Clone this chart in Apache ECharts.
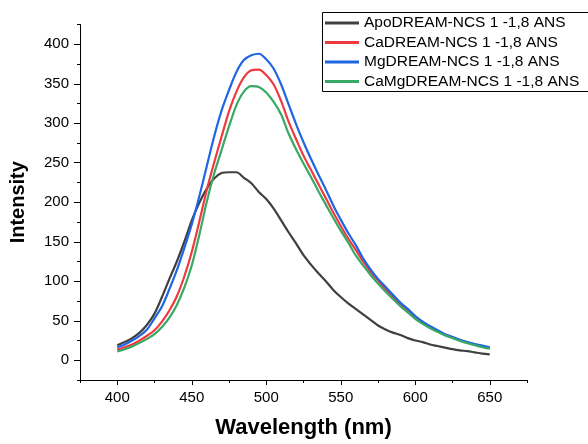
<!DOCTYPE html>
<html>
<head>
<meta charset="utf-8">
<script src="https://cdn.jsdelivr.net/npm/echarts@6/dist/echarts.min.js"></script>
<style>
  html, body { margin: 0; padding: 0; background: #fff; }
  #chart { width: 588px; height: 444px; }
</style>
</head>
<body>
<div id="chart"></div>
<script>
// Emission wavelengths (nm), 5 nm steps
var wavelength = [400,405,410,415,420,425,430,435,440,445,450,455,460,465,470,475,480,485,490,495,
  500,505,510,515,520,525,530,535,540,545,550,555,560,565,570,575,580,585,590,595,
  600,605,610,615,620,625,630,635,640,645,650];

// Fluorescence intensity for each sample
var apo = [19,23,28,35,45,59,80,103,125,150,177,199,217,230,237,238,238,231,224,213,
  204,192,177,162,148,133,121,110,100,89,80,72,65,58,51,44,39,35,32,28,
  25,23,20,18,16,14,12.5,11.5,10,8.5,7.5];
var ca = [13.5,16.5,20,25,31,38,49,63,81,106,137,175,215,250,283,315,340,358,367,368,
  361,349,328,302,280,259,241,223,205,187,170,154,140,125,112,101,90,80.5,71,63,
  54.5,48,42,37,32.5,29,25.5,22.5,20,17.5,15.5];
var mg = [16.5,20,25,31,39,53,68,90,114,142,172,207,245,283,316,342,365,380,386,388,
  381,369,349,324,299,276,255,235,216,196,178,161,146,129,115,103,93,83,73,65,
  56,49,43,38,33,29.5,26,23,20.5,18.5,16.5];
var camg = [11,14,17.5,22,27,33,42,54,70,92,120,158,200,236,266,296,323,340,347,346,
  339,327,311,287,267,249,232,214,197,180,164,149,133,120,108,97,87,77.5,68.5,60.5,
  52.5,46,40.5,36,31.5,28,24.5,21.5,19,16.5,14.5];

var seriesNames = ['ApoDREAM-NCS 1 -1,8 ANS', 'CaDREAM-NCS 1 -1,8 ANS',
  'MgDREAM-NCS 1 -1,8 ANS', 'CaMgDREAM-NCS 1 -1,8 ANS'];
var seriesColors = ['#404040', '#ee3a3e', '#1f66e3', '#37a964'];
var seriesValues = [apo, ca, mg, camg];

// Labelled tick positions
var xTicks = [400, 450, 500, 550, 600, 650];
var yTicks = [0, 50, 100, 150, 200, 250, 300, 350, 400];

var FONT = 'Liberation Sans, Arial, sans-serif';

function pairs(values) {
  return wavelength.map(function (w, i) { return [w, values[i]]; });
}

var chart = echarts.init(document.getElementById('chart'), null, { renderer: 'canvas' });

var lineStyleAxis = { color: '#000', width: 1 };

chart.setOption({
  backgroundColor: '#fff',
  animation: false,
  grid: { left: 80, right: 61, top: 24.5, bottom: 60 },
  // legend frame, running off the right edge of the canvas
  graphic: [{
    type: 'rect',
    z: 1,
    shape: { x: 322.5, y: 12.5, width: 320, height: 79 },
    style: { fill: '#fff', stroke: '#000', lineWidth: 1 }
  }],
  legend: {
    orient: 'vertical',
    left: 322,
    top: 12.3,
    z: 10,
    padding: [1, 10, 0, 3],
    itemGap: 0,
    itemWidth: 34,
    itemHeight: 3,
    icon: 'rect',
    borderWidth: 0,
    textStyle: { fontFamily: FONT, fontSize: 15.5, color: '#000', lineHeight: 19.5 },
    data: seriesNames
  },
  xAxis: [
    {
      // minor ticks every 25 nm plus the axis line
      type: 'value', min: 375, max: 675, interval: 25,
      position: 'bottom',
      axisLine: { show: true, onZero: false, lineStyle: lineStyleAxis },
      axisTick: { show: true, inside: false, length: 3, lineStyle: lineStyleAxis },
      axisLabel: { show: false },
      splitLine: { show: false }
    },
    {
      // labelled major ticks
      type: 'value', min: 375, max: 675,
      position: 'bottom', offset: 0,
      axisLine: { show: false, onZero: false },
      axisTick: { show: true, inside: false, length: 5, customValues: xTicks, lineStyle: lineStyleAxis },
      axisLabel: { show: true, customValues: xTicks, margin: 10, fontFamily: FONT, fontSize: 15, color: '#000' },
      splitLine: { show: false },
      name: 'Wavelength (nm)',
      nameLocation: 'middle',
      nameGap: 37,
      nameTextStyle: { fontFamily: FONT, fontSize: 22, fontWeight: 'bold', color: '#000' }
    }
  ],
  yAxis: [
    {
      type: 'value', min: -25, max: 425, interval: 25,
      position: 'left',
      axisLine: { show: true, onZero: false, lineStyle: lineStyleAxis },
      axisTick: { show: true, inside: false, length: 3, lineStyle: lineStyleAxis },
      axisLabel: { show: false },
      splitLine: { show: false }
    },
    {
      type: 'value', min: -25, max: 425,
      position: 'left', offset: 0,
      axisLine: { show: false, onZero: false },
      axisTick: { show: true, inside: false, length: 6, customValues: yTicks, lineStyle: lineStyleAxis },
      axisLabel: { show: true, customValues: yTicks, margin: 11, fontFamily: FONT, fontSize: 15, color: '#000' },
      splitLine: { show: false },
      name: 'Intensity',
      nameLocation: 'middle',
      nameGap: 52,
      nameRotate: 90,
      nameTextStyle: { fontFamily: FONT, fontSize: 20, fontWeight: 'bold', color: '#000' }
    }
  ],
  series: seriesNames.map(function (name, i) {
    return {
      name: name,
      type: 'line',
      xAxisIndex: 0,
      yAxisIndex: 0,
      data: pairs(seriesValues[i]),
      showSymbol: false,
      symbol: 'none',
      smooth: 0.3,
      color: seriesColors[i],
      lineStyle: { color: seriesColors[i], width: 2.2 },
      z: 2 + i
    };
  })
});
</script>
</body>
</html>
